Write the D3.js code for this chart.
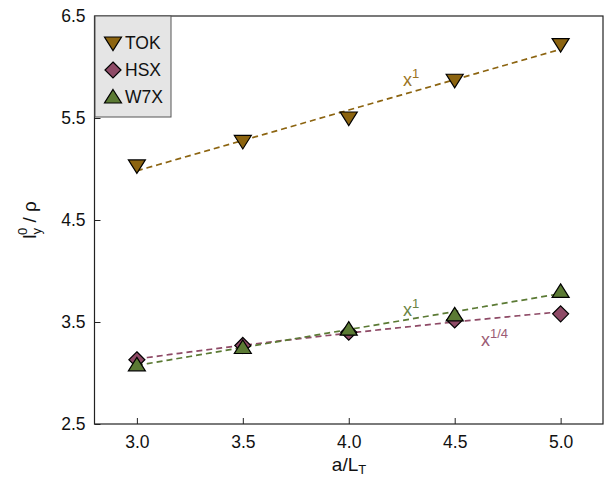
<!DOCTYPE html>
<html>
<head>
<meta charset="utf-8">
<script src="https://cdn.jsdelivr.net/npm/d3@7"></script>
<style>
  body { margin: 0; background: #fff; }
  svg { font-family: "Liberation Sans", Arial, sans-serif; }
</style>
</head>
<body>
<svg id="chart" width="605" height="481"></svg>
<script>
// values
var xs = [3.0, 3.5, 4.0, 4.5, 5.0];
var tok = [5.03, 5.27, 5.50, 5.87, 6.22];
var hsx = [3.13, 3.27, 3.40, 3.52, 3.58];
var w7x = [3.08, 3.25, 3.43, 3.57, 3.80];
var xTicks = [3.0, 3.5, 4.0, 4.5, 5.0];
var yTicks = [2.5, 3.5, 4.5, 5.5, 6.5];

var series = [
    { name: "TOK", vals: tok, color: "#8c6410", sym: "down", power: 1 },
    { name: "HSX", vals: hsx, color: "#8e4a66", sym: "diamond", power: 0.25 },
    { name: "W7X", vals: w7x, color: "#5b7a34", sym: "up", power: 1 }
];

var svg = d3.select("#chart");
var margin = { top: 16, right: 2, bottom: 57, left: 94.5 };
var w = 605, h = 481;

var x = d3.scaleLinear().domain([2.8, 5.2]).range([margin.left, w - margin.right]);
var y = d3.scaleLinear().domain([2.5, 6.5]).range([h - margin.bottom, margin.top]);

// frame
svg.append("rect")
    .attr("x", x(2.8)).attr("y", y(6.5))
    .attr("width", x(5.2) - x(2.8)).attr("height", y(2.5) - y(6.5))
    .attr("fill", "none").attr("stroke", "#222").attr("stroke-width", 1.2);

// axes, ticks pointing inward
var xAxis = svg.append("g")
    .attr("transform", "translate(0," + y(2.5) + ")")
    .call(d3.axisBottom(x).tickValues(xTicks).tickSize(-6).tickPadding(12).tickFormat(d3.format(".1f")));
var yAxis = svg.append("g")
    .attr("transform", "translate(" + x(2.8) + ",0)")
    .call(d3.axisLeft(y).tickValues(yTicks).tickSize(-6).tickPadding(9).tickFormat(d3.format(".1f")));
[xAxis, yAxis].forEach(function (a) {
    a.select(".domain").remove();
    a.selectAll("line").attr("stroke", "#222");
    a.selectAll("text").attr("font-size", 17.5).attr("fill", "#111")
        .attr("font-family", "Liberation Sans, Arial, sans-serif");
});

// least squares fit of y = a + b * x^p
function fit(vals, p) {
    var t = xs.map(function (v) { return Math.pow(v, p); });
    var mt = d3.mean(t), mv = d3.mean(vals);
    var b = d3.sum(t, function (d, i) { return (d - mt) * (vals[i] - mv); }) /
            d3.sum(t, function (d) { return (d - mt) * (d - mt); });
    var a = mv - b * mt;
    return function (xx) { return a + b * Math.pow(xx, p); };
}

var line = d3.line().x(function (d) { return x(d[0]); }).y(function (d) { return y(d[1]); });
var fine = d3.range(3.0, 5.0001, 0.05);

// draw HSX first so others overlay like the picture
var order = [series[1], series[2], series[0]];
order.forEach(function (s) {
    var f = fit(s.vals, s.power);
    svg.append("path")
        .attr("d", line(fine.map(function (v) { return [v, f(v)]; })))
        .attr("fill", "none")
        .attr("stroke", s.color)
        .attr("stroke-width", 1.7)
        .attr("stroke-dasharray", "6,4");
});

function symbolPath(sym) {
    if (sym === "diamond") return "M0,-8L8,0L0,8L-8,0Z";
    if (sym === "up") return "M0,-7.5L8.5,6L-8.5,6Z";
    return "M-8.5,-6L8.5,-6L0,7.5Z";
}

order.forEach(function (s) {
    svg.append("g").selectAll("path")
        .data(s.vals)
        .enter().append("path")
        .attr("transform", function (d, i) { return "translate(" + x(xs[i]) + "," + y(d) + ")"; })
        .attr("d", symbolPath(s.sym))
        .attr("fill", s.color)
        .attr("stroke", "#000")
        .attr("stroke-width", 1.2);
});

// fit annotations
function powerLabel(px, py, exp, color) {
    var t = svg.append("text").attr("x", px).attr("y", py)
        .attr("fill", color).attr("font-size", 18);
    t.append("tspan").text("x");
    t.append("tspan").attr("dy", -8).attr("font-size", 13).text(exp);
}
powerLabel(403, 86, "1", "#9a7424");
powerLabel(403, 316, "1", "#6a8444");
powerLabel(481, 346, "1/4", "#9a5a74");

// legend
var lg = svg.append("g");
lg.append("rect")
    .attr("x", 95).attr("y", 16).attr("width", 76).attr("height", 101)
    .attr("fill", "#e5e5e5").attr("stroke", "#555").attr("stroke-width", 1);
var items = lg.selectAll("g.item")
    .data(series)
    .enter().append("g")
    .attr("class", "item")
    .attr("transform", function (d, i) { return "translate(113," + (43 + i * 27) + ")"; });
items.append("path")
    .attr("d", function (d) { return symbolPath(d.sym); })
    .attr("fill", function (d) { return d.color; })
    .attr("stroke", "#000").attr("stroke-width", 1.2);
items.append("text")
    .attr("x", 12).attr("dy", "0.36em")
    .attr("font-size", 17.5).attr("fill", "#111")
    .text(function (d) { return d.name; });

// axis titles
var xt = svg.append("text")
    .attr("x", 349).attr("y", 471)
    .attr("text-anchor", "middle").attr("font-size", 19).attr("fill", "#111");
xt.append("tspan").text("a/L");
xt.append("tspan").attr("dy", 3).attr("font-size", 13).text("T");

var yt = svg.append("text")
    .attr("transform", "translate(36,220) rotate(-90)")
    .attr("text-anchor", "middle").attr("font-size", 19).attr("fill", "#111");
yt.append("tspan").text("l");
yt.append("tspan").attr("dy", 5).attr("font-size", 13).text("y");
yt.append("tspan").attr("dx", -7).attr("dy", -14).attr("font-size", 13).text("0");
yt.append("tspan").attr("dy", 9).text(" / ρ");
</script>
</body>
</html>
